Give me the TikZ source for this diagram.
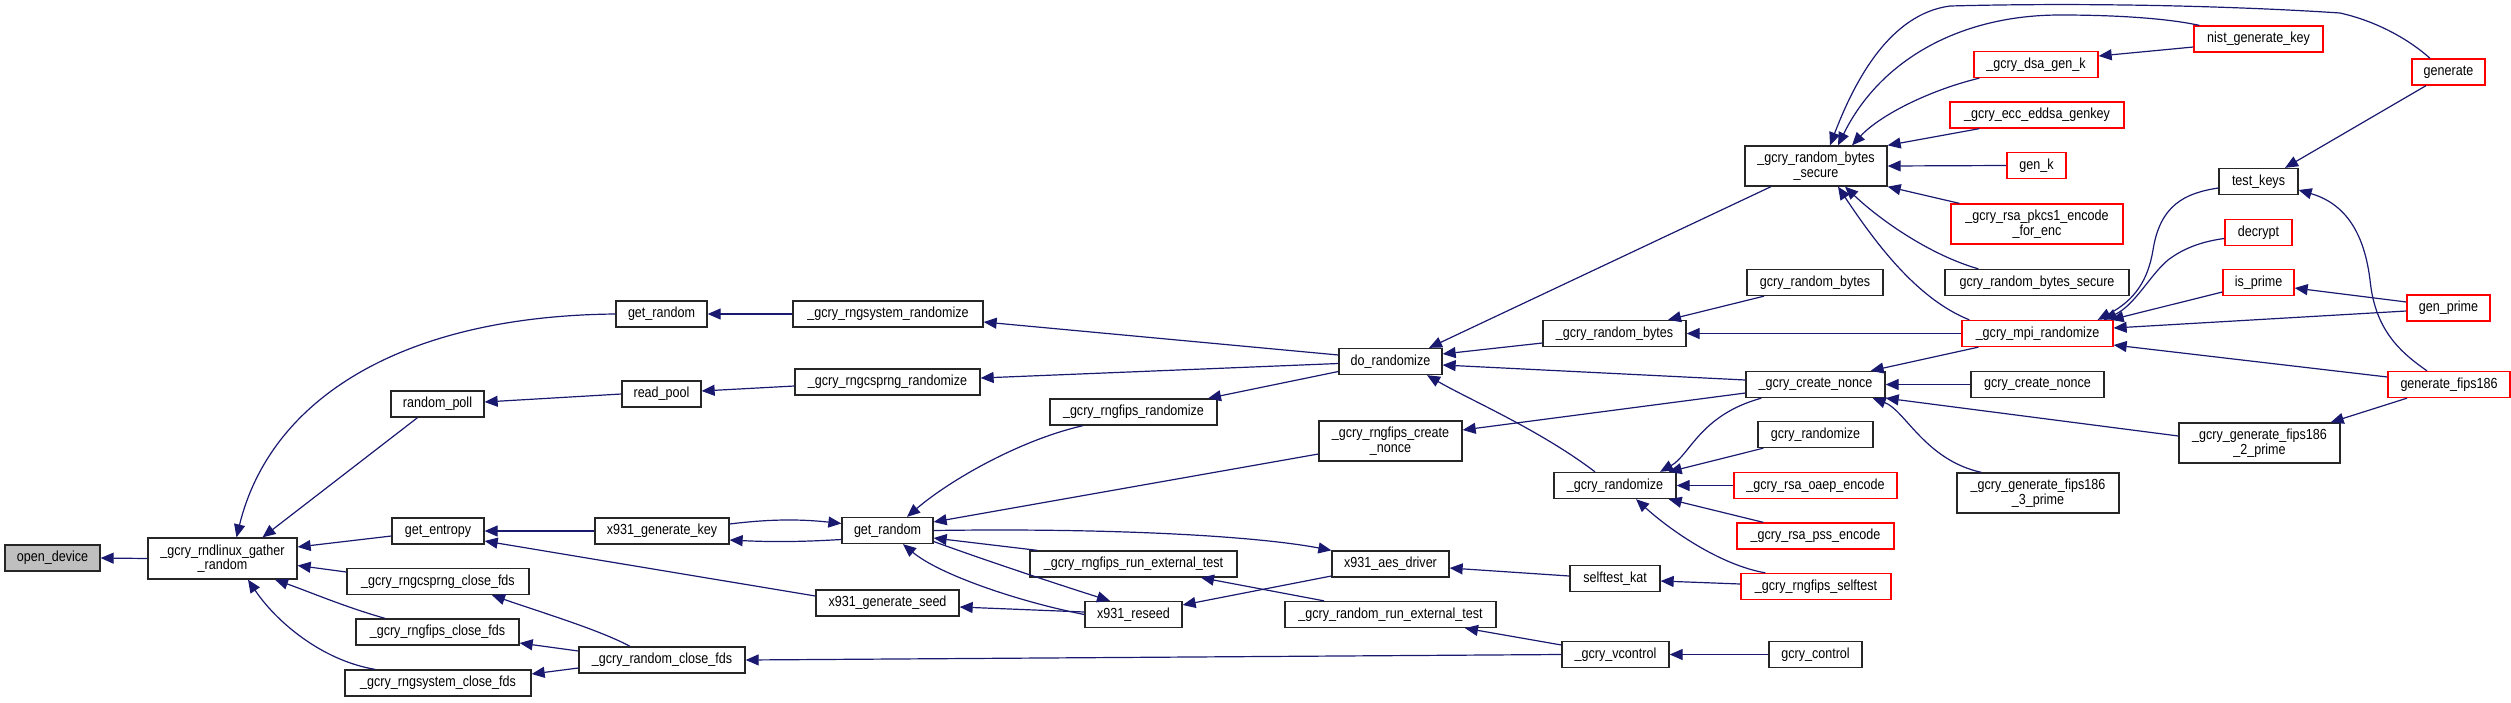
\documentclass[tikz,border=0pt]{standalone}
\usepackage{fontspec}
\setmainfont{Liberation Sans}[FakeStretch=0.86]
\usetikzlibrary{arrows.meta}
\definecolor{navy}{RGB}{25,25,112}
\definecolor{grayfill}{RGB}{191,191,191}
\definecolor{redb}{RGB}{255,0,0}
\newcommand{\fsz}{\fontsize{14.6pt}{14.5pt}\selectfont}
\tikzset{
  fn/.style={draw=black!85, line width=1.3pt, fill=white, inner sep=0pt, font=\fsz, text=black, align=center},
  rd/.style={fn, draw=redb},
  calls/.style={draw=navy, line width=1.2pt, {Triangle[length=13pt,width=11pt]}-},
}
\begin{document}
\begin{tikzpicture}[x=1pt,y=-1pt]
\useasboundingbox (0,0) rectangle (2511,702);
% nodes
\node[fn, fill=grayfill, minimum width=95pt, minimum height=26pt] (od) at (52.5,558) {open\_device};
\node[fn, minimum width=149pt, minimum height=41pt] (gather) at (222.5,558.5) {\_gcry\_rndlinux\_gather\\\_random};
\node[fn, minimum width=91pt, minimum height=26pt] (gr1) at (661.5,314) {get\_random};
\node[fn, minimum width=190pt, minimum height=26pt] (rsysr) at (888,314) {\_gcry\_rngsystem\_randomize};
\node[fn, minimum width=93pt, minimum height=26pt] (rpoll) at (437.5,404) {random\_poll};
\node[fn, minimum width=79pt, minimum height=26pt] (rpool) at (661.5,394) {read\_pool};
\node[fn, minimum width=185pt, minimum height=26pt] (rcspr) at (887.5,382) {\_gcry\_rngcsprng\_randomize};
\node[fn, minimum width=92pt, minimum height=26pt] (gent) at (438,531) {get\_entropy};
\node[fn, minimum width=134pt, minimum height=26pt] (xgk) at (662,531) {x931\_generate\_key};
\node[fn, minimum width=182pt, minimum height=26pt] (rcclose) at (438,581.5) {\_gcry\_rngcsprng\_close\_fds};
\node[fn, minimum width=163pt, minimum height=26pt] (rfclose) at (437.5,632) {\_gcry\_rngfips\_close\_fds};
\node[fn, minimum width=186pt, minimum height=26pt] (rsclose) at (438,683) {\_gcry\_rngsystem\_close\_fds};
\node[fn, minimum width=166pt, minimum height=26pt] (rclose) at (662,660) {\_gcry\_random\_close\_fds};
\node[fn, minimum width=143pt, minimum height=26pt] (xgs) at (887.5,603) {x931\_generate\_seed};
\node[fn, minimum width=91pt, minimum height=26pt] (gr2) at (887.5,530.5) {get\_random};
\node[fn, minimum width=167pt, minimum height=26pt] (rfr) at (1133.5,412) {\_gcry\_rngfips\_randomize};
\node[fn, minimum width=207pt, minimum height=26pt] (rfret) at (1133.5,564) {\_gcry\_rngfips\_run\_external\_test};
\node[fn, minimum width=97pt, minimum height=26pt] (xrs) at (1133.5,614.5) {x931\_reseed};
\node[fn, minimum width=103pt, minimum height=26pt] (dor) at (1390.5,361.5) {do\_randomize};
\node[fn, minimum width=143pt, minimum height=40pt] (rfcn) at (1390.5,441) {\_gcry\_rngfips\_create\\\_nonce};
\node[fn, minimum width=117pt, minimum height=26pt] (xaes) at (1390.5,564) {x931\_aes\_driver};
\node[fn, minimum width=211pt, minimum height=26pt] (rret) at (1390.5,614.5) {\_gcry\_random\_run\_external\_test};
\node[fn, minimum width=143pt, minimum height=26pt] (grb) at (1614.5,333.5) {\_gcry\_random\_bytes};
\node[fn, minimum width=122pt, minimum height=26pt] (grand) at (1615,485.5) {\_gcry\_randomize};
\node[fn, minimum width=90pt, minimum height=26pt] (skat) at (1615,578.5) {selftest\_kat};
\node[fn, minimum width=107pt, minimum height=26pt] (vctl) at (1615.5,654.5) {\_gcry\_vcontrol};
\node[fn, minimum width=142pt, minimum height=40pt] (grbs) at (1816,166) {\_gcry\_random\_bytes\\\_secure};
\node[fn, minimum width=136pt, minimum height=26pt] (gcrb) at (1815,282.5) {gcry\_random\_bytes};
\node[fn, minimum width=139pt, minimum height=26pt] (gcn) at (1815.5,384.5) {\_gcry\_create\_nonce};
\node[fn, minimum width=115pt, minimum height=26pt] (gcrand) at (1815.5,434.5) {gcry\_randomize};
\node[rd, minimum width=163pt, minimum height=26pt] (oaep) at (1815.5,485.5) {\_gcry\_rsa\_oaep\_encode};
\node[rd, minimum width=157pt, minimum height=26pt] (pss) at (1815.5,536) {\_gcry\_rsa\_pss\_encode};
\node[rd, minimum width=150pt, minimum height=26pt] (rfst) at (1816,586.5) {\_gcry\_rngfips\_selftest};
\node[fn, minimum width=93pt, minimum height=26pt] (gctl) at (1815.5,654.5) {gcry\_control};
\node[rd, minimum width=124pt, minimum height=26pt] (dsa) at (2036,64.5) {\_gcry\_dsa\_gen\_k};
\node[rd, minimum width=174pt, minimum height=26pt] (ecc) at (2037,115) {\_gcry\_ecc\_eddsa\_genkey};
\node[rd, minimum width=59pt, minimum height=26pt] (genk) at (2036.5,165.5) {gen\_k};
\node[rd, minimum width=172pt, minimum height=40pt] (pkcs) at (2037,224) {\_gcry\_rsa\_pkcs1\_encode\\\_for\_enc};
\node[fn, minimum width=184pt, minimum height=26pt] (gcrbs) at (2037,282.5) {gcry\_random\_bytes\_secure};
\node[rd, minimum width=151pt, minimum height=26pt] (mpi) at (2037.5,333.5) {\_gcry\_mpi\_randomize};
\node[fn, minimum width=133pt, minimum height=26pt] (gccn) at (2037.5,384.5) {gcry\_create\_nonce};
\node[fn, minimum width=162pt, minimum height=40pt] (f3) at (2038,493) {\_gcry\_generate\_fips186\\\_3\_prime};
\node[rd, minimum width=129pt, minimum height=26pt] (nist) at (2258.5,39) {nist\_generate\_key};
\node[fn, minimum width=79pt, minimum height=26pt] (tk) at (2258.5,181.5) {test\_keys};
\node[rd, minimum width=67pt, minimum height=26pt] (dec) at (2258.5,232.5) {decrypt};
\node[rd, minimum width=71pt, minimum height=26pt] (isp) at (2258.5,282.5) {is\_prime};
\node[fn, minimum width=161pt, minimum height=40pt] (f2) at (2259.5,443) {\_gcry\_generate\_fips186\\\_2\_prime};
\node[rd, minimum width=73pt, minimum height=26pt] (gen) at (2448.5,72) {generate};
\node[rd, minimum width=83pt, minimum height=26pt] (gprime) at (2448.5,308) {gen\_prime};
\node[rd, minimum width=122pt, minimum height=26pt] (gf186) at (2449,384.5) {generate\_fips186};
% edges
\draw[calls] (od.east) -- (gather.west);
\draw[calls] ([xshift=14pt]gather.north) .. controls (270,400) and (400,316) .. (gr1.west);
\draw[calls] ([xshift=40pt]gather.north) -- ([xshift=-20pt]rpoll.south);
\draw[calls] ([yshift=11.5pt]gather.east) -- ([yshift=-5pt]gent.west);
\draw[calls] ([yshift=-7pt]gather.east) -- ([yshift=9.5pt]rcclose.west);
\draw[calls] ([xshift=52.5pt]gather.south) .. controls (310,592) and (345,607) .. ([xshift=-52.5pt]rfclose.north);
\draw[calls] ([xshift=25.5pt]gather.south) .. controls (275,620) and (320,660) .. ([xshift=-63pt]rsclose.north);
\draw[calls] (gr1.east) -- (rsysr.west);
\draw[calls] ([yshift=2pt]rpoll.east) -- (rpool.west);
\draw[calls] ([yshift=3pt]rpool.east) -- ([yshift=-4pt]rcspr.west);
\draw[calls] (gent.east) -- (xgk.west);
\draw[calls] ([yshift=-10pt]gent.east) -- ([yshift=7pt]xgs.west);
\draw[calls] ([yshift=7pt]gr2.west) .. controls (800,519) and (770,519) .. ([yshift=7pt]xgk.east);
\draw[calls] ([yshift=-9pt]xgk.east) .. controls (770,542) and (800,542) .. ([yshift=-9pt]gr2.west);
\draw[calls] ([xshift=54pt]rcclose.south) .. controls (540,612) and (600,630) .. ([xshift=-32pt]rclose.north);
\draw[calls] ([yshift=-11pt]rfclose.east) -- ([yshift=9pt]rclose.west);
\draw[calls] ([yshift=9pt]rsclose.east) -- ([yshift=-8pt]rclose.west);
\draw[calls] ([yshift=-8pt]rsysr.east) -- ([yshift=6.5pt]dor.west);
\draw[calls] ([yshift=4pt]rcspr.east) -- ([yshift=-2pt]dor.west);
\draw[calls] ([xshift=74.5pt]rfr.north) -- ([yshift=-10pt]dor.west);
\draw[calls] ([xshift=19.5pt]gr2.north) .. controls (950,480) and (1020,440) .. ([xshift=-50.5pt]rfr.south);
\draw[calls] ([yshift=8.5pt]gr2.east) -- ([yshift=-13pt]rfcn.west);
\draw[calls] (xaes.north west) .. controls (1250,535) and (1100,528) .. (gr2.east);
\draw[calls] ([yshift=-7.5pt]gr2.east) -- ([xshift=8pt]rfret.north west);
\draw[calls] ([xshift=-23.5pt]xrs.north) .. controls (1060,585) and (990,562) .. ([yshift=-11pt]gr2.east);
\draw[calls] ([xshift=15.5pt]gr2.south) .. controls (940,575) and (1020,602) .. (xrs.west);
\draw[calls] ([yshift=-4pt]xgs.east) -- ([yshift=2.5pt]xrs.west);
\draw[calls] ([yshift=9.5pt]xrs.east) -- ([yshift=-12pt]xaes.west);
\draw[calls] ([xshift=67.5pt]rfret.south) -- ([xshift=-66.5pt]rret.north);
\draw[calls] ([yshift=-4pt]xaes.east) -- ([yshift=2.5pt]skat.west);
\draw[calls] ([xshift=74.5pt]rret.south) -- ([yshift=9.5pt]vctl.west);
\draw[calls] (rclose.east) -- (vctl.west);
\draw[calls] (vctl.east) -- (gctl.west);
\draw[calls] ([yshift=-2.5pt]skat.east) -- ([yshift=2.5pt]rfst.west);
\draw[calls] ([xshift=38.5pt]dor.north) -- ([xshift=-45pt]grbs.south);
\draw[calls] ([yshift=7.5pt]dor.east) -- ([yshift=-9.5pt]grb.west);
\draw[calls] ([yshift=-3.5pt]dor.east) -- ([yshift=4.5pt]gcn.west);
\draw[calls] ([xshift=36.5pt]dor.south) .. controls (1470,400) and (1540,430) .. ([xshift=-20pt]grand.north);
\draw[calls] ([yshift=11pt]rfcn.east) -- ([yshift=-8.5pt]gcn.west);
\draw[calls] ([xshift=53.5pt]grb.north) -- ([xshift=-51pt]gcrb.south);
\draw[calls] (grb.east) -- (mpi.west);
\draw[calls] ([xshift=14pt]grbs.north) .. controls (1855,80) and (1890,14) .. (1950,6) .. controls (2100,2) and (2250,7) .. (2340,13) .. controls (2380,22) and (2412,42) .. ([xshift=-18.5pt]gen.north);
\draw[calls] ([xshift=22pt]grbs.north) .. controls (1880,60) and (1960,15) .. (2060,15) .. controls (2130,15) and (2175,20) .. ([xshift=6pt]nist.north west);
\draw[calls] ([xshift=36pt]grbs.north) .. controls (1880,115) and (1930,90) .. ([xshift=6pt]dsa.south west);
\draw[calls] (grbs.north east) -- ([xshift=30pt]ecc.south west);
\draw[calls] (grbs.east) -- (genk.west);
\draw[calls] (grbs.south east) -- ([xshift=9pt]pkcs.north west);
\draw[calls] ([xshift=29pt]grbs.south) .. controls (1880,220) and (1930,255) .. ([xshift=34pt]gcrbs.north west);
\draw[calls] ([xshift=22pt]grbs.south) .. controls (1880,250) and (1920,300) .. ([xshift=8pt]mpi.north west);
\draw[calls] ([yshift=8.5pt]dsa.east) -- ([yshift=-8pt]nist.west);
\draw[calls] ([xshift=-15pt]gcn.north east) -- ([xshift=17pt]mpi.south west);
\draw[calls] (gcn.east) -- (gccn.west);
\draw[calls] (gcn.south east) -- ([yshift=7pt]f2.west);
\draw[calls] ([xshift=-13pt]gcn.south east) .. controls (1905,410) and (1925,460) .. ([xshift=25pt]f3.north west);
\draw[calls] ([xshift=45pt]grand.north) .. controls (1690,455) and (1700,415) .. ([xshift=16pt]gcn.south west);
\draw[calls] ([xshift=-8pt]grand.north east) -- ([xshift=6pt]gcrand.south west);
\draw[calls] (grand.east) -- (oaep.west);
\draw[calls] ([xshift=-8pt]grand.south east) -- ([xshift=27pt]pss.north west);
\draw[calls] ([xshift=21pt]grand.south) .. controls (1670,530) and (1720,565) .. ([xshift=25pt]rfst.north west);
\draw[calls] ([xshift=-16pt]mpi.north east) .. controls (2135,300) and (2148,280) .. (2153,250) .. controls (2160,205) and (2185,193) .. ([yshift=-6.5pt]tk.west);
\draw[calls] ([xshift=-10pt]mpi.north east) .. controls (2135,305) and (2150,275) .. (2168,260) .. controls (2185,247) and (2205,241) .. ([yshift=-6pt]dec.west);
\draw[calls] ([xshift=-3pt]mpi.north east) -- ([yshift=-9.5pt]isp.west);
\draw[calls] ([yshift=5.5pt]mpi.east) -- ([yshift=-3pt]gprime.west);
\draw[calls] ([yshift=-11.5pt]mpi.east) -- ([yshift=7.5pt]gf186.west);
\draw[calls] ([xshift=26.5pt]tk.north) -- ([xshift=-22.5pt]gen.south);
\draw[calls] ([yshift=-8.5pt]tk.east) .. controls (2350,205) and (2365,240) .. (2370,280) .. controls (2375,330) and (2400,352) .. ([xshift=-22pt]gf186.north);
\draw[calls] ([yshift=-5.5pt]isp.east) -- ([yshift=6pt]gprime.west);
\draw[calls] ([xshift=-10pt]f2.north east) -- ([xshift=-42pt]gf186.south);
\end{tikzpicture}
\end{document}
